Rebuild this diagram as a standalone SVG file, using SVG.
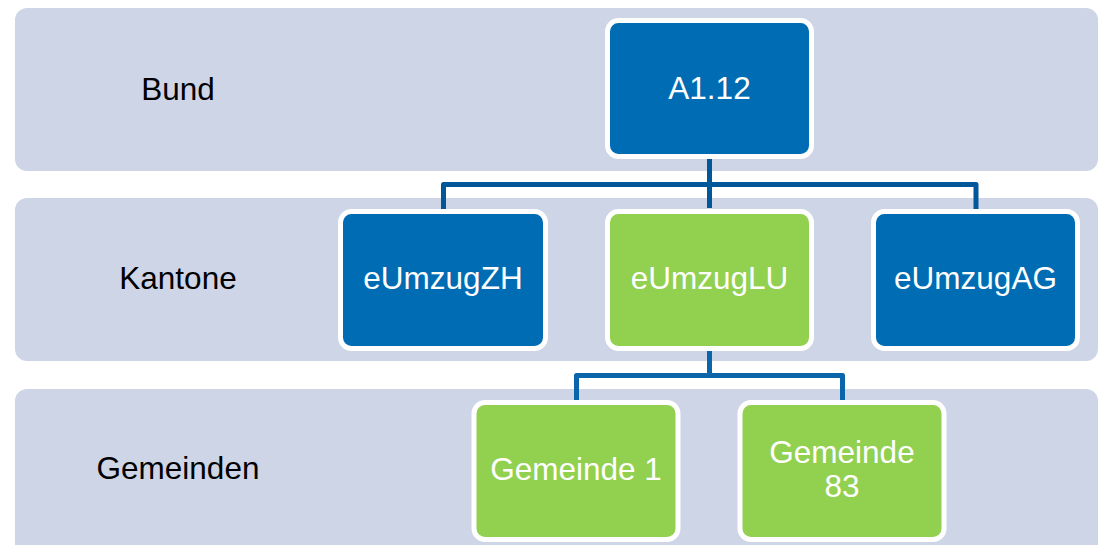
<svg xmlns="http://www.w3.org/2000/svg" width="1101" height="545" viewBox="0 0 1101 545">
  <style>
    .band { fill: #CDD5E6; }
    .lvl { font-family: "Liberation Sans", Arial, sans-serif; font-size: 31.5px; fill: #000000; text-anchor: middle; }
    .box { stroke: #FFFFFF; stroke-width: 5; }
    .blue { fill: #006CB3; }
    .green { fill: #92D050; }
    .lbl { font-family: "Liberation Sans", Arial, sans-serif; font-size: 31.5px; fill: #FFFFFF; text-anchor: middle; }
    .link { fill: none; stroke-width: 5; stroke-linejoin: round; }
  </style>

  <!-- level bands -->
  <g id="band-bund">
    <rect class="band" x="15" y="8" width="1083" height="163" rx="12"/>
    <text class="lvl" x="178" y="100">Bund</text>
  </g>
  <g id="band-kantone">
    <rect class="band" x="15" y="198" width="1083" height="163" rx="12"/>
    <text class="lvl" x="178" y="289">Kantone</text>
  </g>
  <g id="band-gemeinden">
    <rect class="band" x="15" y="389" width="1083" height="175" rx="12"/>
    <text class="lvl" x="178" y="479">Gemeinden</text>
  </g>

  <!-- connectors -->
  <g id="connectors">
    <path class="link" stroke="#00589A" d="M709.5 158 V208 M443.5 209 V184.5 H976 V209"/>
    <path class="link" stroke="#0A65AA" d="M709.5 351 V375.5 M576.5 401 V375.5 H842.5 V401"/>
  </g>

  <!-- nodes -->
  <g id="node-a112">
    <rect class="box blue" x="607.5" y="20.5" width="204" height="136" rx="11"/>
    <text class="lbl" x="709.5" y="99">A1.12</text>
  </g>
  <g id="node-eumzugzh">
    <rect class="box blue" x="340.5" y="211.5" width="205" height="137" rx="11"/>
    <text class="lbl" x="443" y="289">eUmzugZH</text>
  </g>
  <g id="node-eumzuglu">
    <rect class="box green" x="607.5" y="211.5" width="204" height="137" rx="11"/>
    <text class="lbl" x="709.5" y="289">eUmzugLU</text>
  </g>
  <g id="node-eumzugag">
    <rect class="box blue" x="873.5" y="211.5" width="204" height="137" rx="11"/>
    <text class="lbl" x="975.5" y="289">eUmzugAG</text>
  </g>
  <g id="node-gemeinde1">
    <rect class="box green" x="474" y="402.5" width="204" height="137" rx="11"/>
    <text class="lbl" x="576" y="480">Gemeinde 1</text>
  </g>
  <g id="node-gemeinde83">
    <rect class="box green" x="740" y="402.5" width="204" height="137" rx="11"/>
    <text class="lbl" x="842" y="463">Gemeinde</text>
    <text class="lbl" x="842" y="497">83</text>
  </g>
</svg>
